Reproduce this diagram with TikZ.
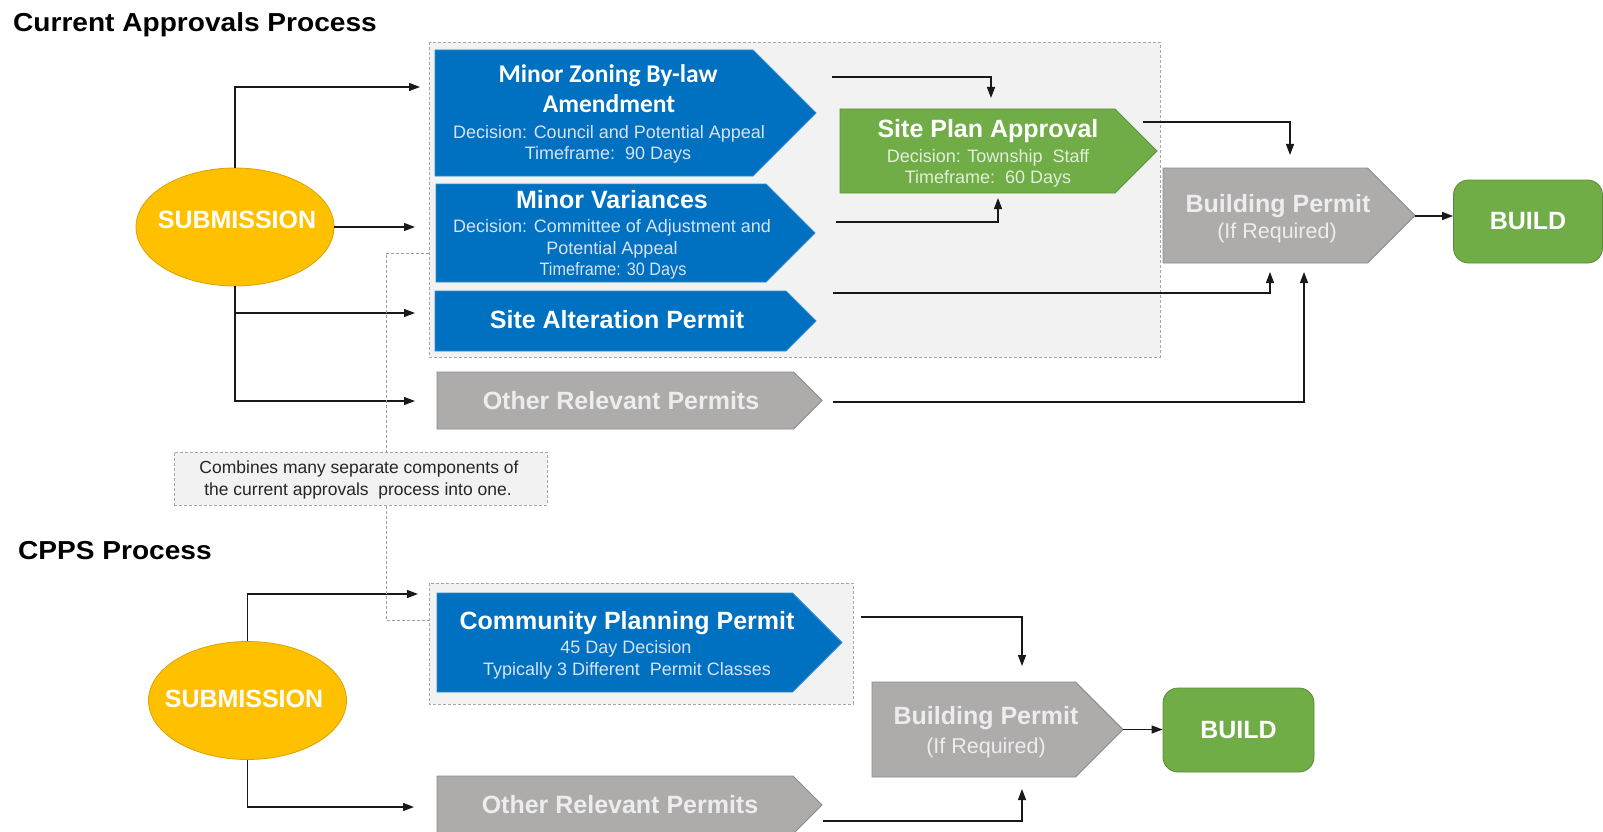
\documentclass[tikz,border=0pt]{standalone}
\usepackage{fontspec}
\setmainfont{Liberation Sans}
\newfontfamily\calfont{Carlito}
\newfontfamily\headfont[FakeStretch=1.08]{Liberation Sans}
\newfontfamily\narrowfont[FakeStretch=0.9]{Liberation Sans}
\usetikzlibrary{arrows.meta,shapes.geometric}
\definecolor{cpblue}{HTML}{0070C0}
\definecolor{cpgreen}{HTML}{70AD47}
\definecolor{cpgray}{HTML}{AEABAB}
\definecolor{cpyellow}{HTML}{FFC000}
\definecolor{cpback}{HTML}{F2F2F2}
\definecolor{subblue}{HTML}{D9E2F3}
\definecolor{subgreen}{HTML}{E2EFDA}
\definecolor{subgray}{HTML}{EDEDED}
% chevron: style, left, top, bottom, tip
\newcommand{\chevron}[5]{\path[#1] (#2,#3) -- ({#5-(#4-#3)/2},#3) -- (#5,{(#3+#4)/2})
  -- ({#5-(#4-#3)/2},#4) -- (#2,#4) -- cycle;}
\begin{document}
\begin{tikzpicture}[x=1pt,y=-1pt,>={Triangle[length=11pt,width=8pt]},
    groupbox/.style={fill=cpback,draw=gray!70,line width=0.9pt,dash pattern=on 3pt off 2pt},
    bluebox/.style={fill=cpblue,draw=cpblue!80!white,line width=0.8pt},
    greenbox/.style={fill=cpgreen,draw=cpgreen!85!black,line width=0.8pt},
    graybox/.style={fill=cpgray,draw=cpgray!80!black,line width=0.8pt},
    subm/.style={ellipse,fill=cpyellow,draw=cpyellow!85!black,line width=0.8pt,minimum width=198pt,minimum height=118pt},
    buildbox/.style={rounded corners=15pt,fill=cpgreen,draw=cpgreen!80!black,line width=0.8pt,
      minimum width=149pt,minimum height=83pt,text=white,font=\bfseries\fontsize{25}{30}\selectfont},
    heading/.style={font=\headfont\bfseries\fontsize{26}{30}\selectfont,anchor=base west,inner sep=0pt},
    big/.style={font=\bfseries\fontsize{25}{30}\selectfont,text=white,anchor=base,inner sep=0pt},
    small/.style={font=\fontsize{18}{21}\selectfont,text=subblue,anchor=base,inner sep=0pt},
    conn/.style={draw=black!90,line width=1.3pt,->},
    dashlink/.style={draw=gray!75,line width=1pt,dash pattern=on 3pt off 2pt}]
\useasboundingbox (0,0) rectangle (1603,832);

% headings
\node[heading] (head1) at (13,32) {Current Approvals Process};
\node[heading] (head2) at (18,559) {CPPS Process};

% grey group boxes
\path[groupbox] (429,42) rectangle (1160,357);
\path[groupbox] (429,583) rectangle (853,704);

% chevrons
\chevron{bluebox}{435}{50}{176}{816}
\chevron{bluebox}{436}{184}{282}{815}
\chevron{bluebox}{435}{291}{351}{816}
\chevron{greenbox}{840}{109}{193}{1157}
\chevron{graybox}{1163}{168}{263}{1415}
\chevron{graybox}{437}{372}{429}{822}
\chevron{bluebox}{437}{593}{692}{842}
\chevron{graybox}{437}{776}{834}{822}
\chevron{graybox}{872}{682}{777}{1123}

% texts in the chevrons
\node[big,font=\calfont\bfseries\fontsize{25.5}{30}\selectfont] (mzaA) at (608,83) {Minor Zoning By-law};
\node[big,font=\calfont\bfseries\fontsize{25.5}{30}\selectfont] (mzaB) at (609,113) {Amendment};
\node[small] (mzaC) at (609,139) {Decision: Council and Potential Appeal};
\node[small] (mzaD) at (608,160) {Timeframe:~~90 Days};
\node[big] (mvA) at (612,208) {Minor Variances};
\node[small] (mvB) at (612,232) {Decision: Committee of Adjustment and};
\node[small] (mvC) at (612,254) {Potential Appeal};
\node[small,font=\narrowfont\fontsize{18}{21}\selectfont] (mvD) at (613,275) {Timeframe: 30 Days};
\node[big] (sapA) at (617,328) {Site Alteration Permit};
\node[big] (spaA) at (988,138) {Site Plan Approval};
\node[small,text=subgreen] (spaB) at (988,162) {Decision: Township~ Staff};
\node[small,text=subgreen] (spaC) at (988,183) {Timeframe:~~60 Days};
\node[big,text=subgray] (bpA) at (1278,212) {Building Permit};
\node[small,text=subgray,font=\fontsize{21.5}{24}\selectfont] (bpB) at (1277,238) {(If Required)};
\node[big,text=subgray] (orpA) at (621,409) {Other Relevant Permits};
\node[big] (cppA) at (627,629) {Community Planning Permit};
\node[small] (cppB) at (626,653) {45 Day Decision};
\node[small] (cppC) at (627,675) {Typically 3 Different~ Permit Classes};
\node[big,text=subgray] (orpB) at (620,813) {Other Relevant Permits};
\node[big,text=subgray] (bpC) at (986,724) {Building Permit};
\node[small,text=subgray,font=\fontsize{21.5}{24}\selectfont] (bpD) at (986,753) {(If Required)};

% submissions and builds
\node[subm] (sub1) at (235,227) {};
\node[big] (sub1t) at (237,228) {SUBMISSION};
\node[subm] (sub2) at (247.5,700.5) {};
\node[big] (sub2t) at (244,707) {SUBMISSION};
\node[buildbox] (build1) at (1528,221.5) {BUILD};
\node[buildbox,minimum width=151pt,minimum height=84pt] (build2) at (1238.5,730) {BUILD};

% note
\node[groupbox,anchor=north west,minimum width=373pt,minimum height=53pt,inner sep=0pt] (note) at (174,452) {};
\node[font=\fontsize{17.5}{21}\selectfont,text=black!85,anchor=base,inner sep=0pt] (noteA) at (359,473) {Combines many separate components of};
\node[font=\fontsize{17.5}{21}\selectfont,text=black!85,anchor=base,inner sep=0pt] (noteB) at (358,495) {the current approvals~ process into one.};

% end points of the connectors
\coordinate (t1) at (420,87);
\coordinate (t2) at (415,227);
\coordinate (t3) at (415,313);
\coordinate (t4) at (415,401);
\coordinate (t5) at (418,594);
\coordinate (t6) at (414,807);
\coordinate (s1) at (832,77);   \coordinate (e1) at (991,98);
\coordinate (s2) at (836,222);  \coordinate (e2) at (998,198);
\coordinate (s3) at (1143,122); \coordinate (e3) at (1290,155);
\coordinate (s4) at (833,293);  \coordinate (e4) at (1270,272);
\coordinate (s5) at (833,402);  \coordinate (e5) at (1304,272);
\coordinate (s6) at (861,617);  \coordinate (e6) at (1022,666);
\coordinate (s7) at (823,821);  \coordinate (e7) at (1022,789);
\coordinate (bp1) at (1415,216);
\coordinate (bp2) at (1123,729.5);
\coordinate (dx) at (386,0);
\coordinate (d1) at (429,253);
\coordinate (d2) at (429,620);

% connectors
\draw[conn] (sub1.north) |- (t1);
\draw[conn] (sub1.east) -- (t2);
\draw[conn] (sub1.south) |- (t3);
\draw[conn] (sub1.south) |- (t4);
\draw[conn] (sub2.north) |- (t5);
\draw[conn] (sub2.south) |- (t6);
\draw[conn] (s1) -| (e1);
\draw[conn] (s2) -| (e2);
\draw[conn] (s3) -| (e3);
\draw[conn] (s4) -| (e4);
\draw[conn] (s5) -| (e5);
\draw[conn] (s6) -| (e6);
\draw[conn] (s7) -| (e7);
\draw[conn] (bp1) -- (bp1 -| build1.west);
\draw[conn] (bp2) -- (bp2 -| build2.west);

% dashed link through the note
\draw[dashlink] (d1) -| (dx |- note.north);
\draw[dashlink] (dx |- note.south) |- (d2);
\end{tikzpicture}
\end{document}
